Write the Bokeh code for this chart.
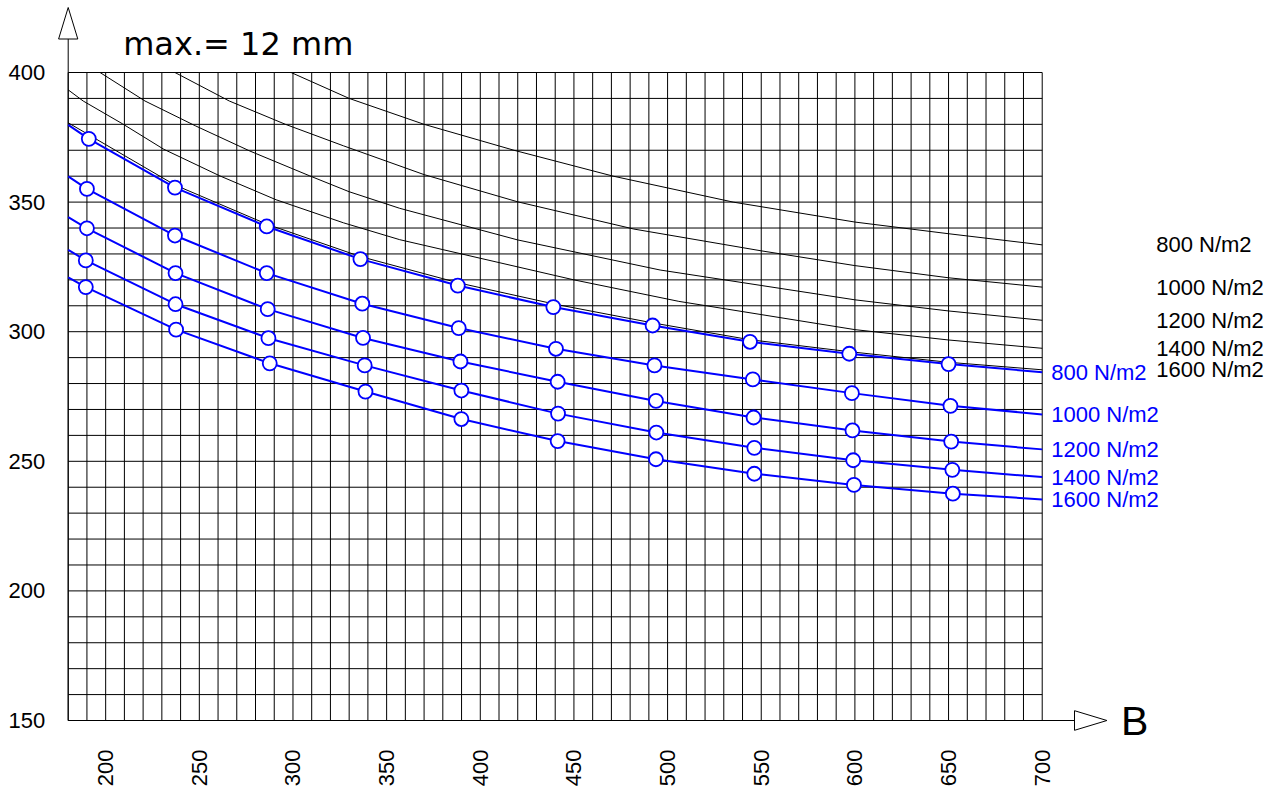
import numpy as np
from bokeh.plotting import figure
from bokeh.models import Range1d
from bokeh.embed import file_html
from bokeh.resources import INLINE
from bokeh.core.properties import value

# ---------------- data ----------------
TITLE = "max.= 12 mm"
X_AXIS_NAME = "B"
LOAD_LABELS = ["800 N/m2", "1000 N/m2", "1200 N/m2", "1400 N/m2", "1600 N/m2"]

X_TICKS = [200, 250, 300, 350, 400, 450, 500, 550, 600, 650, 700]
Y_TICKS = [150, 200, 250, 300, 350, 400]
X_MIN, X_MAX = 180, 700
Y_MIN, Y_MAX = 150, 400
GRID_STEP = 10

# blue series (marker positions, plus curve values at left and right edge)
S800_X = [191, 237, 286, 336, 388, 439, 492, 544, 597, 650]
S800_Y = [374.4, 355.6, 340.6, 328.0, 317.8, 309.5, 302.4, 296.1, 291.5, 287.5]
S800_EDGE = [379.8, 284.4]

S1000_X = [190, 237, 286, 337, 388.5, 440.4, 493, 545.5, 598.4, 651]
S1000_Y = [355.1, 337.1, 322.6, 310.8, 301.4, 293.4, 287.0, 281.6, 276.3, 271.4]
S1000_EDGE = [359.9, 268.1]

S1200_X = [190, 237.3, 286.5, 337.4, 389.4, 441.3, 493.8, 545.9, 598.7, 651.4]
S1200_Y = [339.9, 322.6, 308.7, 297.6, 288.5, 280.7, 273.3, 266.9, 261.9, 257.6]
S1200_EDGE = [344.2, 254.6]

S1400_X = [189.4, 237.3, 286.9, 338.3, 389.9, 441.5, 494, 546.3, 599.1, 652]
S1400_Y = [327.5, 310.6, 297.5, 287.0, 277.3, 268.4, 261.1, 255.2, 250.4, 246.7]
S1400_EDGE = [331.6, 243.9]

S1600_X = [189.4, 237.6, 287.6, 338.7, 389.9, 441.3, 493.8, 546.3, 599.5, 652.3]
S1600_Y = [317.2, 300.8, 287.8, 276.9, 266.3, 257.8, 250.8, 245.2, 240.9, 237.5]
S1600_EDGE = [321.0, 235.3]

# black reference curves
K800_X = [299, 330, 370, 418, 471, 535, 600, 650, 700]
K800_Y = [400, 390, 380, 370, 360, 350, 342.3, 337.8, 333.5]

K1000_X = [237, 266, 296, 327, 370, 420, 482, 550, 600, 650, 700]
K1000_Y = [400, 389, 380, 371.7, 360.6, 350.1, 339.6, 331.2, 325.5, 320.8, 317.2]

K1200_X = [197, 221, 248, 277, 309, 330, 357, 420, 496, 600, 650, 700]
K1200_Y = [400, 389, 379.4, 369.7, 360.1, 354, 347.6, 335.4, 323.8, 312.3, 308.0, 304.4]

K1400_X = [180, 188, 209, 231, 261, 291, 327, 357, 450, 506, 600, 650, 700]
K1400_Y = [393.3, 389, 380.2, 370.4, 360.1, 350.9, 342.0, 335.5, 320, 311.7, 300.8, 296.8, 293.6]

K1600_X = [180, 237, 286, 336, 388, 440, 492, 544, 597, 650, 700]
K1600_Y = [380.6, 356.6, 341.5, 329.0, 318.9, 310.6, 303.4, 296.9, 292.3, 288.2, 285.3]

# ---------------- layout ----------------
FIG_W, FIG_H = 1272, 786
ORIGIN_PX_X = 67.7    # screen position of X_MIN
ORIGIN_PX_Y = 720.0   # screen position (from top) of Y_MIN
PX_X = 1.8731         # pixels per x unit
PX_Y = 2.592          # pixels per y unit
VX0 = X_MIN - ORIGIN_PX_X / PX_X
VY0 = Y_MIN - (FIG_H - ORIGIN_PX_Y) / PX_Y
FONT = "Liberation Sans"
BLUE = "#0000ff"

p = figure(width=FIG_W, height=FIG_H,
           x_range=Range1d(VX0, VX0 + FIG_W / PX_X),
           y_range=Range1d(VY0, VY0 + FIG_H / PX_Y),
           x_axis_type=None, y_axis_type=None,
           output_backend="svg", toolbar_location=None)
p.min_border = 0
p.min_border_left = 0
p.min_border_right = 0
p.min_border_top = 0
p.min_border_bottom = 0
p.outline_line_color = None
p.background_fill_color = "white"
p.border_fill_color = "white"
p.grid.visible = False

# arrow heads geometry (pixel sizes converted to data units)
up_tip = Y_MIN + (ORIGIN_PX_Y - 7.0) / PX_Y
up_base = up_tip - 31.5 / PX_Y
rt_base = X_MAX + 32.3 / PX_X
rt_tip = rt_base + 32.4 / PX_X
hw_x = 9.6 / PX_X
hw_y = 9.8 / PX_Y

# grid
gx = np.arange(X_MIN, X_MAX + 1, GRID_STEP)
gy = np.arange(Y_MIN, Y_MAX + 1, GRID_STEP)
p.segment(x0=gx, y0=[Y_MIN] * len(gx), x1=gx, y1=[Y_MAX] * len(gx),
          line_color="black", line_width=1)
p.segment(x0=[X_MIN] * len(gy), y0=gy, x1=[X_MAX] * len(gy), y1=gy,
          line_color="black", line_width=1)

# axis lines
p.segment(x0=[X_MIN, X_MIN], y0=[Y_MIN, Y_MIN], x1=[X_MIN, rt_base], y1=[up_base, Y_MIN],
          line_color="black", line_width=1)

# tick labels
p.text(x=[X_MIN] * len(Y_TICKS), y=Y_TICKS, text=[str(t) for t in Y_TICKS],
       x_offset=-23, text_align="right", text_baseline="middle",
       text_color="black", text_font=value(FONT), text_font_size="22px")
p.text(x=X_TICKS, y=[Y_MIN] * len(X_TICKS), text=[str(t) for t in X_TICKS],
       angle=np.pi / 2, y_offset=29, text_align="right", text_baseline="middle",
       text_color="black", text_font=value(FONT), text_font_size="22px")

# black curves
black = [(K800_X, K800_Y), (K1000_X, K1000_Y), (K1200_X, K1200_Y),
         (K1400_X, K1400_Y), (K1600_X, K1600_Y)]
for kx, ky in black:
    p.line(kx, ky, line_color="black", line_width=1, line_join="round")

# blue series
blue = [(S800_X, S800_Y, S800_EDGE), (S1000_X, S1000_Y, S1000_EDGE),
        (S1200_X, S1200_Y, S1200_EDGE), (S1400_X, S1400_Y, S1400_EDGE),
        (S1600_X, S1600_Y, S1600_EDGE)]
for sx, sy, edge in blue:
    p.line([X_MIN] + sx + [X_MAX], [edge[0]] + sy + [edge[1]],
           line_color=BLUE, line_width=2, line_join="round")
for sx, sy, edge in blue:
    p.scatter(sx, sy, marker="circle", size=14, line_color=BLUE,
              line_width=1.8, fill_color="white")

# curve labels
p.text(x=[X_MAX] * 5, y=[b[2][1] for b in blue], text=LOAD_LABELS,
       x_offset=9, text_align="left", text_baseline="middle",
       text_color=BLUE, text_font=value(FONT), text_font_size="22px")
p.text(x=[X_MAX] * 5, y=[k[1][-1] for k in black], text=LOAD_LABELS,
       x_offset=114, text_align="left", text_baseline="middle",
       text_color="black", text_font=value(FONT), text_font_size="22px")

# axis arrow heads
p.patches(xs=[[X_MIN - hw_x, X_MIN, X_MIN + hw_x], [rt_base, rt_tip, rt_base]],
          ys=[[up_base, up_tip, up_base], [Y_MIN - hw_y, Y_MIN, Y_MIN + hw_y]],
          fill_color="white", line_color="black", line_width=1)

# axis name and title
p.text(x=[rt_tip], y=[Y_MIN], text=[X_AXIS_NAME], x_offset=14,
       text_align="left", text_baseline="middle", text_color="black",
       text_font=value(FONT), text_font_size="41px")
p.text(x=[X_MIN], y=[Y_MAX], text=[TITLE], x_offset=55, y_offset=-28.7,
       text_align="left", text_baseline="alphabetic", text_color="black",
       text_font=value("DejaVu Sans"), text_font_size="32px")

open("out.html", "w").write(file_html(p, INLINE))
